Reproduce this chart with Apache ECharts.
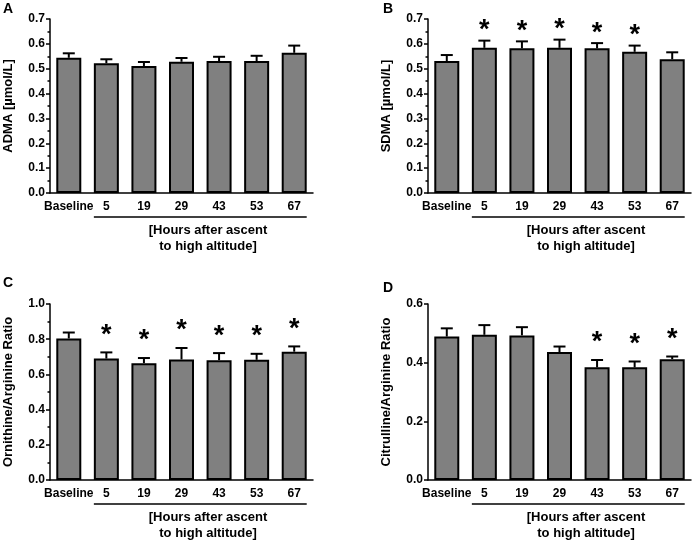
<!DOCTYPE html>
<html>
<head>
<meta charset="utf-8">
<script src="https://cdn.jsdelivr.net/npm/echarts@6/dist/echarts.min.js"></script>
<style>
html,body{margin:0;padding:0;background:#fff;}
#chart{width:695px;height:540px;}
</style>
</head>
<body>
<div id="chart"></div>
<script>
var categories = ['Baseline', '5', '19', '29', '43', '53', '67'];

var admaMean = [0.544, 0.522, 0.511, 0.528, 0.531, 0.531, 0.564];
var admaSem  = [0.018, 0.016, 0.016, 0.015, 0.017, 0.021, 0.029];
var admaSig  = [0, 0, 0, 0, 0, 0, 0];

var sdmaMean = [0.531, 0.584, 0.582, 0.584, 0.582, 0.568, 0.538];
var sdmaSem  = [0.024, 0.029, 0.028, 0.033, 0.021, 0.025, 0.028];
var sdmaSig  = [0, 1, 1, 1, 1, 1, 0];

var ornMean = [0.804, 0.690, 0.664, 0.685, 0.681, 0.683, 0.729];
var ornSem  = [0.034, 0.035, 0.029, 0.065, 0.040, 0.034, 0.030];
var ornSig  = [0, 1, 1, 1, 1, 1, 1];

var citMean = [0.489, 0.495, 0.493, 0.436, 0.384, 0.384, 0.412];
var citSem  = [0.028, 0.033, 0.028, 0.019, 0.025, 0.020, 0.009];
var citSig  = [0, 0, 0, 0, 1, 1, 1];

var panelLetters = ['A', 'B', 'C', 'D'];
var yNames = ['ADMA [µmol/L]', 'SDMA [µmol/L]', 'Ornithine/Arginine Ratio', 'Citrulline/Arginine Ratio'];
var yMax = [0.7, 0.7, 1.0, 0.6];
var yInterval = [0.1, 0.1, 0.2, 0.2];
var yMinor = [true, true, true, false];
var xSubtitle = '[Hours after ascent\nto high altitude]';

var FONT = '"Liberation Sans", Arial, Helvetica, sans-serif';
var chart = echarts.init(document.getElementById('chart'), null, {renderer: 'canvas'});

var grids = [
  {left: 50, top: 19, width: 263, height: 174},
  {left: 428, top: 19, width: 263, height: 174},
  {left: 50, top: 304, width: 263, height: 176},
  {left: 428, top: 304, width: 263, height: 176}
];
var starOffset = [16, 16, 23, 23];
var panels = [
  [admaMean, admaSem, admaSig],
  [sdmaMean, sdmaSem, sdmaSig],
  [ornMean, ornSem, ornSig],
  [citMean, citSem, citSig]
];

var xAxes = [], yAxes = [], series = [], graphics = [];
panels.forEach(function (p, i) {
  xAxes.push({
    type: 'category', gridIndex: i, data: categories,
    axisLine: {lineStyle: {color: '#000', width: 1.5}},
    axisTick: {alignWithLabel: true, length: 4, lineStyle: {color: '#000', width: 1.5}},
    axisLabel: {color: '#000', fontFamily: FONT, fontWeight: 'bold', fontSize: 12, margin: 8, interval: 0}
  });
  yAxes.push({
    type: 'value', gridIndex: i, min: 0, max: yMax[i], interval: yInterval[i],
    name: yNames[i], nameLocation: 'middle', nameGap: 35, nameRotate: 90,
    nameTextStyle: {color: '#000', fontFamily: FONT, fontWeight: 'bold', fontSize: 13},
    axisLine: {show: true, lineStyle: {color: '#000', width: 1.5}},
    axisTick: {show: true, length: 4, lineStyle: {color: '#000', width: 1.5}},
    minorTick: {show: yMinor[i], splitNumber: 2, length: 2.5, lineStyle: {color: '#000', width: 1.5}},
    splitLine: {show: false},
    axisLabel: {color: '#000', fontFamily: FONT, fontWeight: 'bold', fontSize: 12, margin: 5,
      formatter: function (v) { return v.toFixed(1); }}
  });
  series.push({
    type: 'bar', xAxisIndex: i, yAxisIndex: i, data: p[0], barWidth: 25,
    itemStyle: {color: '#808080', borderColor: '#000', borderWidth: 2},
    silent: true, animation: false
  });
  var cdata = p[0].map(function (m, k) { return [k, m, m + p[1][k], p[2][k]]; });
  var off = starOffset[i];
  series.push({
    type: 'custom', xAxisIndex: i, yAxisIndex: i, data: cdata, animation: false, silent: true, z: 3,
    renderItem: function (params, api) {
      var k = api.value(0);
      var top = api.coord([k, api.value(1)]);
      var hi = api.coord([k, api.value(2)]);
      var children = [
        {type: 'line', shape: {x1: top[0], y1: top[1], x2: hi[0], y2: hi[1]}, style: {stroke: '#000', lineWidth: 2}},
        {type: 'line', shape: {x1: hi[0] - 6, y1: hi[1], x2: hi[0] + 6, y2: hi[1]}, style: {stroke: '#000', lineWidth: 2}}
      ];
      if (api.value(3)) {
        children.push({type: 'text', style: {text: '*', x: hi[0], y: hi[1] - off + 6, align: 'center', verticalAlign: 'middle',
          font: 'bold 27px ' + FONT, fill: '#000'}});
      }
      if (k === 1) {
        var first = api.coord([1, 0]);
        var last = api.coord([categories.length - 1, 0]);
        var half = 12.5;
        children.push({type: 'line', shape: {x1: first[0] - half, y1: first[1] + 24, x2: last[0] + half, y2: last[1] + 24},
          style: {stroke: '#000', lineWidth: 1.5}});
      }
      return {type: 'group', children: children};
    }
  });
  var g = grids[i];
  graphics.push({type: 'text', left: (i % 2 === 0 ? 3 : 383), top: (i < 2 ? 2 : (i === 2 ? 276 : 281)),
    style: {text: panelLetters[i], font: 'bold 14px ' + FONT, fill: '#000'}});
  graphics.push({type: 'text', x: g.left + 158, y: g.top + g.height + 45,
    style: {text: xSubtitle, font: 'bold 13px ' + FONT, fill: '#000', align: 'center', verticalAlign: 'middle', lineHeight: 16}});
});

chart.setOption({
  animation: false,
  backgroundColor: '#fff',
  grid: grids,
  xAxis: xAxes,
  yAxis: yAxes,
  series: series,
  graphic: graphics
});
</script>
</body>
</html>
